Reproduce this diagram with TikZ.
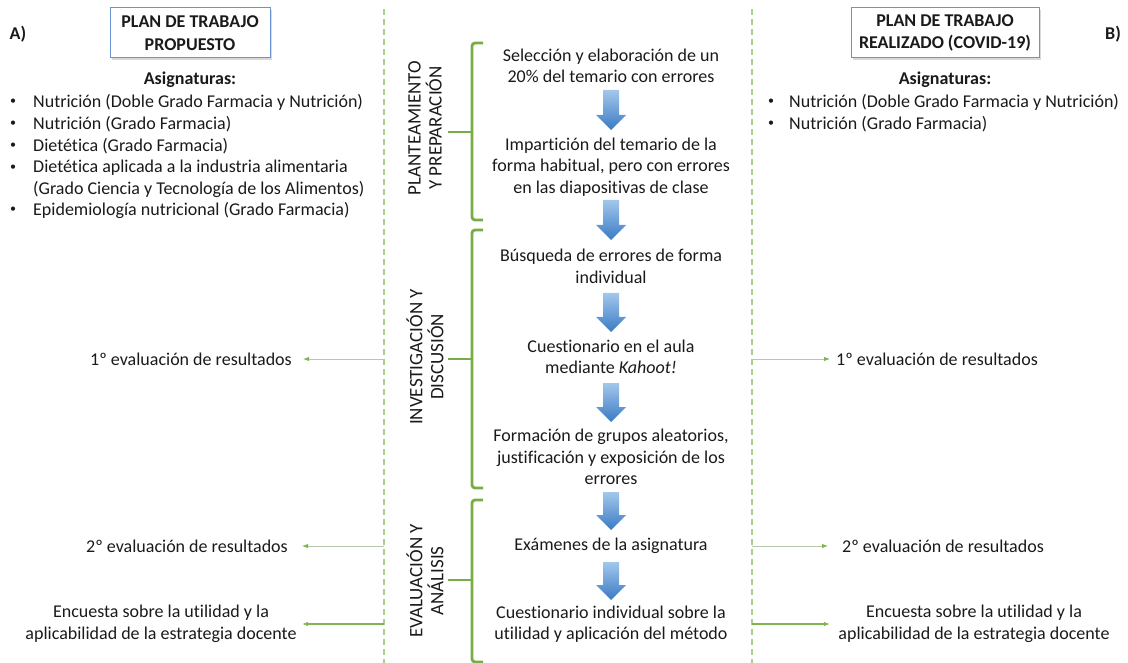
\documentclass[tikz,border=0pt]{standalone}
\usepackage{fontspec}
\setmainfont{Carlito}[Ligatures={TeX,NoCommon}]
\usetikzlibrary{arrows.meta,shadows}
\definecolor{dashgreen}{HTML}{A9CF8C}
\definecolor{bracegreen}{HTML}{77AD47}
\definecolor{boxblue}{HTML}{6A93D4}
\definecolor{linegray}{HTML}{B9C7AC}
\definecolor{linegreen}{HTML}{7DB54E}
\definecolor{bluetop}{HTML}{A3C7EC}
\definecolor{bluebot}{HTML}{3A7AC4}
\definecolor{txtcol}{HTML}{1A1A1A}
\newcommand\blkarrow[2]{%
  \shade[top color=bluetop, bottom color=bluebot]
    (611-8,#1) -- (611+8,#1) -- (611+8,#2-15) -- (611+15,#2-15) -- (611,#2)
    -- (611-15,#2-15) -- (611-8,#2-15) -- cycle;}
\begin{document}
\begin{tikzpicture}[x=1pt,y=-1pt,
  every node/.style={font=\fontsize{18}{21.6}\selectfont, inner sep=0pt, text=txtcol},
  txt/.style={align=center},
  titlebox/.style={draw=boxblue, line width=1pt, fill=white, align=center,
    font=\fontsize{18}{22.5}\selectfont\bfseries,
    drop shadow={shadow xshift=2pt, shadow yshift=-2pt, opacity=0.3}},
  hdr/.style={font=\fontsize{18}{21.6}\selectfont\bfseries},
  phase/.style={rotate=90, align=center, font=\fontsize{19}{21}\selectfont},
  divider/.style={dashgreen, line width=1.3pt, dash pattern=on 6pt off 4pt},
  brace/.style={bracegreen, line width=2.8pt, rounded corners=3pt},
  sidearrow/.style={linegray, line width=1pt, -{Latex[length=6pt,width=4.5pt,fill=linegreen,color=linegreen]}},
  sidearrowdark/.style={linegreen, line width=1.2pt, -{Latex[length=6pt,width=4.5pt]}},
  bul/.style={anchor=center, font=\fontsize{12}{12}\selectfont},
  item/.style={anchor=west}
]
\useasboundingbox (0,0) rectangle (1128,663);

% dividers
\coordinate (d1t) at (384,9);  \coordinate (d1b) at (384,663);
\coordinate (d2t) at (752,9);  \coordinate (d2b) at (752,663);
\draw[divider] (d1t) -- (d1b);
\draw[divider] (d2t) -- (d2b);

% left column
\node[hdr] (A) at (18,34) {A)};
\node[titlebox, minimum width=160pt, minimum height=50pt] (tA) at (190,33) {PLAN DE TRABAJO\\PROPUESTO};
\node[hdr] (asA) at (190,80) {Asignaturas:};
\node[bul] (bA1) at (13,102) {•}; \node[item] (iA1) at (33,102) {Nutrición (Doble Grado Farmacia y Nutrición)};
\node[bul] (bA2) at (13,124) {•}; \node[item] (iA2) at (33,124) {Nutrición (Grado Farmacia)};
\node[bul] (bA3) at (13,146) {•}; \node[item] (iA3) at (33,146) {Dietética (Grado Farmacia)};
\node[bul] (bA4) at (13,168) {•}; \node[item] (iA4) at (33,168) {Dietética aplicada a la industria alimentaria};
\node[item] (iA4b) at (33,189) {(Grado Ciencia y Tecnología de los Alimentos)};
\node[bul] (bA5) at (13,210) {•}; \node[item] (iA5) at (33,210) {Epidemiología nutricional (Grado Farmacia)};

% right column
\node[hdr] (B) at (1113,34) {B)};
\node[titlebox, minimum width=188pt, minimum height=50pt] (tB) at (945,33) {PLAN DE TRABAJO\\REALIZADO (COVID-19)};
\node[hdr] (asB) at (945,80) {Asignaturas:};
\node[bul] (bB1) at (771,102) {•}; \node[item] (iB1) at (789,102) {Nutrición (Doble Grado Farmacia y Nutrición)};
\node[bul] (bB2) at (771,124) {•}; \node[item] (iB2) at (789,124) {Nutrición (Grado Farmacia)};

% central flow
\node[txt] (s1) at (611,66) {Selección y elaboración de un\\20\% del temario con errores};
\node[txt] (s2) at (611,167) {Impartición del temario de la\\forma habitual, pero con errores\\en las diapositivas de clase};
\node[txt] (s3) at (611,266.5) {Búsqueda de errores de forma\\individual};
\node[txt] (s4) at (611,357) {Cuestionario en el aula\\mediante \textit{Kahoot!}};
\node[txt] (s5) at (611,457) {Formación de grupos aleatorios,\\justificación y exposición de los\\errores};
\node[txt] (s6) at (611,546) {Exámenes de la asignatura};
\node[txt] (s7) at (611,624) {Cuestionario individual sobre la\\utilidad y aplicación del método};

\blkarrow{90}{130}
\blkarrow{200}{240}
\blkarrow{293}{332}
\blkarrow{383}{422}
\blkarrow{492}{530}
\blkarrow{562}{600}

% braces and phase labels
\draw[brace] (483,43) -- (472,43) -- (472,220) -- (483,220);
\draw[brace] (472,132) -- (448,132);
\draw[brace] (483,230) -- (472,230) -- (472,488) -- (483,488);
\draw[brace] (472,359) -- (448,359);
\draw[brace] (483,500) -- (472,500) -- (472,662) -- (483,662);
\draw[brace] (472,580) -- (448,580);
\node[phase] (p1) at (425,128) {PLANTEAMIENTO\\Y PREPARACIÓN};
\node[phase] (p2) at (425,357) {INVESTIGACIÓN Y\\DISCUSIÓN};
\node[phase] (p3) at (425,581) {EVALUACIÓN Y\\ANÁLISIS};

% side results
\node[anchor=east] (l1) at (292,359) {1º evaluación de resultados};
\node[anchor=east] (l2) at (288,546) {2º evaluación de resultados};
\node[txt] (l3) at (161,624) {Encuesta sobre la utilidad y la\\aplicabilidad de la estrategia docente};
\node[anchor=west] (r1) at (836,359) {1º evaluación de resultados};
\node[anchor=west] (r2) at (842,546) {2º evaluación de resultados};
\node[txt] (r3) at (974,624) {Encuesta sobre la utilidad y la\\aplicabilidad de la estrategia docente};

\coordinate (cl1) at (384,359); \coordinate (cr1) at (752,359);
\coordinate (cl2) at (384,546); \coordinate (cr2) at (752,546);
\coordinate (cl3) at (384,624); \coordinate (cr3) at (752,624);
\draw[sidearrow] (cl1) -- ([xshift=11pt]l1.east);
\draw[sidearrow] (cr1) -- ([xshift=-6pt]r1.west);
\draw[sidearrow] (cl2) -- ([xshift=14pt]l2.east);
\draw[sidearrow] (cr2) -- ([xshift=-14pt]r2.west);
\draw[sidearrowdark] (cl3) -- (302,624);
\draw[sidearrowdark] (cr3) -- (830,624);
\end{tikzpicture}
\end{document}
